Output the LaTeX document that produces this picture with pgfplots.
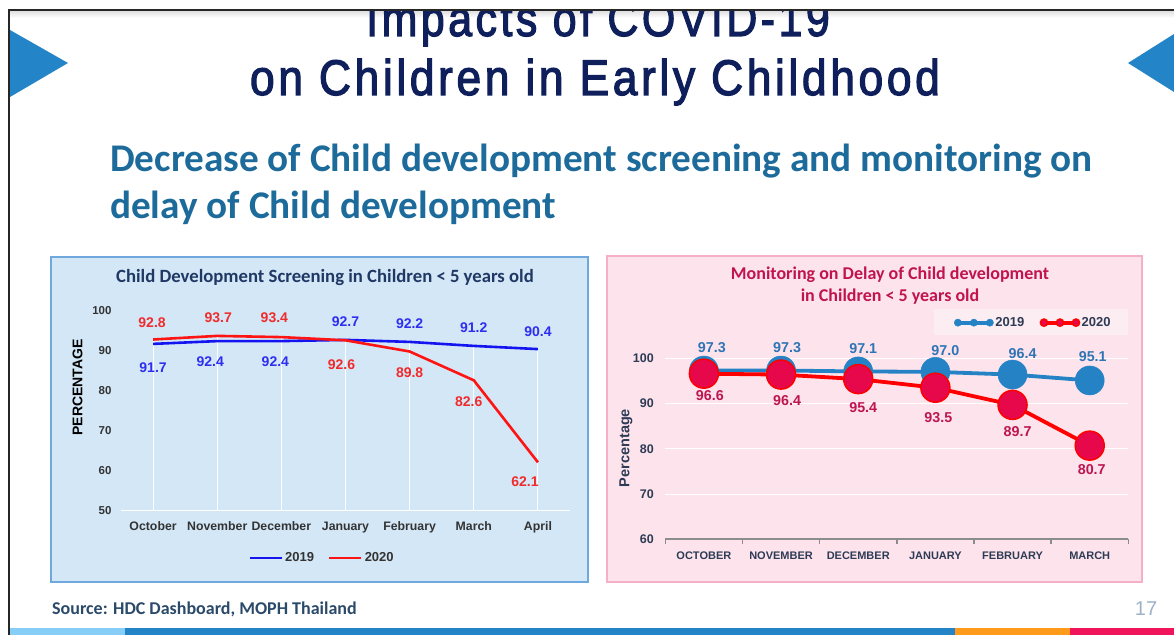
\documentclass[border=0pt]{standalone}
\usepackage{pgfplots}
\pgfplotsset{compat=1.18}
\usepackage{pgfplotstable}
\usepackage{fontspec}
\setmainfont{Carlito}
\newfontfamily\arial{Liberation Sans}
\newfontfamily\titlefont[FakeBold=2.5, LetterSpace=8]{Liberation Sans}
\definecolor{titlenavy}{HTML}{0E1F5B}
\definecolor{subblue}{HTML}{1D6B9B}
\definecolor{trib}{HTML}{2385C7}
\definecolor{pbfill}{HTML}{D3E7F7}
\definecolor{pbdraw}{HTML}{6FA8DC}
\definecolor{ppfill}{HTML}{FDE4EC}
\definecolor{ppdraw}{HTML}{F5B0C6}
\definecolor{legpink}{HTML}{FCEDF2}
\definecolor{lblue}{HTML}{1414F0}
\definecolor{lred}{HTML}{FF1414}
\definecolor{lbluetxt}{HTML}{2E2EF0}
\definecolor{lredtxt}{HTML}{F02B2B}
\definecolor{ltick}{HTML}{333333}
\definecolor{ltitle}{HTML}{1F3864}
\definecolor{rtitle}{HTML}{C0134F}
\definecolor{rblue}{HTML}{2583C5}
\definecolor{rbluetxt}{HTML}{2F74B5}
\definecolor{rred}{HTML}{FF0000}
\definecolor{rredfill}{HTML}{E6084A}
\definecolor{rredtxt}{HTML}{BD1550}
\definecolor{rtick}{HTML}{2E3B55}
\definecolor{axgray}{HTML}{8C8C8C}
\definecolor{srccol}{HTML}{2B4A6A}
\definecolor{pagenum}{HTML}{9DB2C6}
\definecolor{stA}{HTML}{86CDF7}
\definecolor{stB}{HTML}{2385C7}
\definecolor{stC}{HTML}{FF9A1A}
\definecolor{stD}{HTML}{F0145A}

\pgfplotstableread{
x y lab dx dy
0 91.7 91.7 0 -24
1 92.4 92.4 -7 -21
2 92.4 92.4 -6 -21
3 92.7 92.7 0 18
4 92.2 92.2 0 18
5 91.2 91.2 0 18
6 90.4 90.4 0 17
}\screenA
\pgfplotstableread{
x y lab dx dy
0 92.8 92.8 -1 17
1 93.7 93.7 1 18
2 93.4 93.4 -7 19
3 92.6 92.6 -4 -24
4 89.8 89.8 0 -21
5 82.6 82.6 -5 -21
6 62.1 62.1 -13 -19
}\screenB
\pgfplotstableread{
x y lab dx dy
0 97.3 97.3 8 23
1 97.3 97.3 6 23
2 97.1 97.1 5 23
3 97.0 97.0 10 21
4 96.4 96.4 10 21
5 95.1 95.1 3 24
}\monA
\pgfplotstableread{
x y lab dx dy
0 96.6 96.6 6 -22
1 96.4 96.4 6 -26
2 95.4 95.4 5 -28
3 93.5 93.5 3 -30
4 89.7 89.7 5 -27
5 80.7 80.7 2 -24
}\monB

\newcommand\af[1]{\arial\bfseries\fontsize{#1}{#1}\selectfont}

\begin{document}
\begin{tikzpicture}
\path[use as bounding box] (0,0) rectangle (1174pt,635pt);
\fill[white] (0,0) rectangle (1174pt,635pt);
\begin{scope}[x=1pt,y=-1pt,yshift=635pt]
  % frame
  \shade[top color=black!12, bottom color=white] (9,11) rectangle (1174,18);
  \draw[black!85, line width=1.6pt] (8,10) -- (1174,10);
  \draw[black!85, line width=1.6pt] (9,10) -- (9,635);
  % triangles
  \fill[trib] (10,30) -- (68,63) -- (10,97) -- cycle;
  \fill[trib] (1174,34) -- (1128,63) -- (1174,92) -- cycle;
  % title
  \begin{scope}
    \clip (0,12) rectangle (1174,120);
    \node[anchor=base, text=titlenavy, inner sep=0pt] at (598,36) {\scalebox{0.86}[1]{\titlefont\fontsize{50}{50}\selectfont Impacts of COVID-19}};
    \node[anchor=base, text=titlenavy, inner sep=0pt] at (595,95) {\scalebox{0.89}[1]{\titlefont\fontsize{50}{50}\selectfont on Children in Early Childhood}};
  \end{scope}
  % subtitle
  \node[anchor=base west, text=subblue, inner sep=0pt] at (110,172) {\bfseries\fontsize{39.2}{39.2}\selectfont Decrease of Child development screening and monitoring on};
  \node[anchor=base west, text=subblue, inner sep=0pt] at (110,219) {\bfseries\fontsize{39.2}{39.2}\selectfont delay of Child development};
  % panels
  \draw[pbdraw, fill=pbfill, line width=1.2pt] (51,257) rectangle (588,582);
  \draw[ppdraw, fill=ppfill, line width=1.2pt] (607,256) rectangle (1142,582);
  \fill[legpink] (934,309) rectangle (1128,335);
  % chart titles
  \node[text=ltitle, inner sep=0pt] at (325,277.5) {\bfseries\fontsize{18.7}{18.7}\selectfont Child Development Screening in Children < 5 years old};
  \node[text=rtitle, inner sep=0pt] at (890,274.5) {\bfseries\fontsize{18}{18}\selectfont Monitoring on Delay of Child development};
  \node[text=rtitle, inner sep=0pt] at (890,296.5) {\bfseries\fontsize{18}{18}\selectfont in Children < 5 years old};
  % footer
  \node[anchor=west, text=srccol, inner sep=0pt] at (52,609) {\bfseries\fontsize{18}{18}\selectfont Source: HDC Dashboard, MOPH Thailand};
  \node[text=pagenum, inner sep=0pt] at (1146,609) {\arial\fontsize{20}{20}\selectfont 17};
  \fill[stA] (10,628) rectangle (125,635);
  \fill[stB] (125,628) rectangle (955,635);
  \fill[stC] (955,628) rectangle (1070,635);
  \fill[stD] (1070,628) rectangle (1174,635);
\end{scope}

% ---------------- left chart
\begin{axis}[
  at={(121pt,124.3pt)}, anchor=south west,
  scale only axis, width=449pt, height=200pt,
  xmin=-0.5, xmax=6.5, ymin=50, ymax=100,
  clip=false,
  axis x line*=bottom, axis y line*=left,
  x axis line style={white, line width=1pt, -},
  y axis line style={draw=none},
  xtick={0,...,6},
  xticklabels={October,November,December,January,February,March,April},
  ytick={50,60,...,100},
  major tick length=0pt,
  /pgf/number format/assume math mode=true,
  xticklabel style={font=\af{12.3}, text=ltick, yshift=-7pt, text height=9pt, text depth=3pt},
  yticklabel style={font=\af{11.5}, text=ltick, xshift=-6pt},
  ylabel={PERCENTAGE},
  ylabel style={font=\af{14}, text=black, at={(axis description cs:-0.0969,0.616)}, anchor=center},
  legend style={draw=none, fill=none, at={(0.448,-0.237)}, anchor=center,
    legend columns=2, font=\af{13}, text=ltick,
    /tikz/every even column/.append style={column sep=12pt}},
  legend image code/.code={\draw[#1] (0pt,0pt) -- (32pt,0pt);},
  point meta=explicit symbolic,
]
\addplot[white, line width=1pt, unbounded coords=jump, forget plot] coordinates {
 (0,50) (0,92.8) (0,nan) (1,50) (1,93.7) (1,nan) (2,50) (2,93.4) (2,nan)
 (3,50) (3,92.7) (3,nan) (4,50) (4,92.2) (4,nan) (5,50) (5,91.2) (5,nan)
 (6,50) (6,90.4)};
\addplot[lblue, line width=2.6pt, no marks,
  visualization depends on={\thisrow{dx} \as \lx},
  visualization depends on={\thisrow{dy} \as \ly},
  nodes near coords,
  nodes near coords style={anchor=center, xshift=\lx pt, yshift=\ly pt, font=\af{14}, text=lbluetxt, inner sep=0pt}]
  table[x=x, y=y, meta=lab] {\screenA};
\addlegendentry{2019}
\addplot[lred, line width=2.6pt, no marks,
  visualization depends on={\thisrow{dx} \as \lx},
  visualization depends on={\thisrow{dy} \as \ly},
  nodes near coords,
  nodes near coords style={anchor=center, xshift=\lx pt, yshift=\ly pt, font=\af{14}, text=lredtxt, inner sep=0pt}]
  table[x=x, y=y, meta=lab] {\screenB};
\addlegendentry{2020}
\end{axis}

% ---------------- right chart
\begin{axis}[
  at={(665.3pt,95.7pt)}, anchor=south west,
  scale only axis, width=463pt, height=181pt,
  xmin=-0.5, xmax=5.5, ymin=60, ymax=100,
  clip=false,
  axis x line*=bottom, axis y line*=left,
  x axis line style={axgray, line width=1.8pt, -},
  y axis line style={draw=none},
  ymajorgrids, grid style={white, line width=1pt},
  xtick={0,...,5},
  xticklabels={OCTOBER,NOVEMBER,DECEMBER,JANUARY,FEBRUARY,MARCH},
  ytick={60,70,...,100},
  major tick length=0pt,
  extra x ticks={-0.5,0.5,1.5,2.5,3.5,4.5,5.5},
  extra x tick labels={},
  extra x tick style={major tick length=5pt, tick align=outside, tick style={axgray, line width=1.5pt}},
  /pgf/number format/assume math mode=true,
  xticklabel style={font=\af{11}, text=rtick, yshift=-9pt, text height=8pt, text depth=2pt},
  yticklabel style={font=\af{12.5}, text=rtick, xshift=-8pt},
  ylabel={Percentage},
  ylabel style={font=\af{14.5}, text=rtick, at={(axis description cs:-0.0849,0.504)}, anchor=center},
  legend style={draw=none, fill=none, at={(0.795,1.197)}, anchor=center,
    legend columns=2, font=\af{13}, text=rtick,
    /tikz/every even column/.append style={column sep=14pt}},
  legend image code/.code={\draw[#1, mark size=3.6pt] plot coordinates {(0pt,0pt) (16pt,0pt) (32pt,0pt)};},
  point meta=explicit symbolic,
]
\addplot[rblue, line width=3.8pt, mark=*, mark size=14.5pt,
  mark options={fill=rblue, draw=rblue, line width=0.5pt},
  visualization depends on={\thisrow{dx} \as \lx},
  visualization depends on={\thisrow{dy} \as \ly},
  nodes near coords,
  nodes near coords style={anchor=center, xshift=\lx pt, yshift=\ly pt, font=\af{14.3}, text=rbluetxt, inner sep=0pt}]
  table[x=x, y=y, meta=lab] {\monA};
\addlegendentry{2019}
\addplot[rred, line width=3.8pt, mark=*, mark size=14.5pt,
  mark options={fill=rredfill, draw=rred, line width=1.5pt},
  visualization depends on={\thisrow{dx} \as \lx},
  visualization depends on={\thisrow{dy} \as \ly},
  nodes near coords,
  nodes near coords style={anchor=center, xshift=\lx pt, yshift=\ly pt, font=\af{14.3}, text=rredtxt, inner sep=0pt}]
  table[x=x, y=y, meta=lab] {\monB};
\addlegendentry{2020}
\end{axis}
\end{tikzpicture}
\end{document}
